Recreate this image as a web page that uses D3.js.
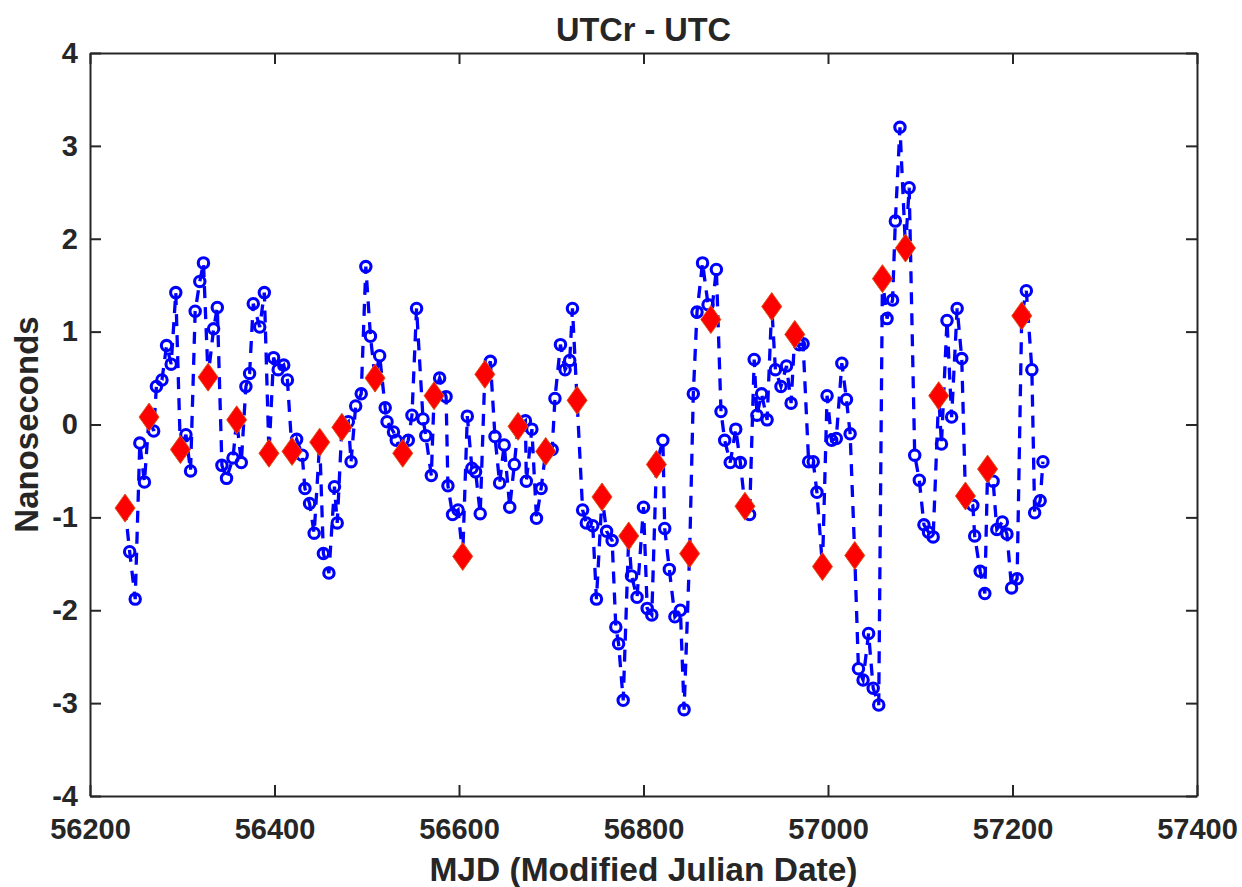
<!DOCTYPE html>
<html lang="en">
<head>
<meta charset="UTF-8">
<script src="https://cdnjs.cloudflare.com/ajax/libs/d3/7.8.5/d3.min.js"></script>
<style>
    body { margin: 0; background: #fff; }
    text { font-family: 'Liberation Sans', Arial, sans-serif; font-weight: bold; fill: #262626; }
</style>
<title>UTCr - UTC</title>
</head>
<body>
<div id="chart"></div>
<script>
// UTCr - UTC (blue circles), MJD and nanoseconds
const utcrMjd = [56243,56249,56254,56259,56269,56272,56278,56283,56288,56293,
    56304,56309,56314,56319,56323,56334,56338,56343,56348,56355,
    56364,56369,56373,56377,56384,56389,56399,56404,56410,56414,
    56424,56430,56433,56438,56443,56453,56459,56465,56468,56480,
    56483,56488,56494,56499,56504,56514,56520,56522,56529,56532,
    56545,56549,56554,56561,56564,56570,56579,56586,56588,56593,
    56599,56609,56614,56618,56623,56634,56639,56644,56649,56655,
    56660,56672,56673,56679,56684,56689,56701,56704,56710,56715,
    56720,56723,56734,56738,56745,56749,56760,56766,56770,56773,
    56778,56787,56793,56800,56804,56809,56821,56823,56828,56834,
    56840,56844,56854,56858,56864,56870,56879,56884,56888,56894,
    56900,56905,56915,56920,56923,56928,56934,56943,56949,56955,
    56960,56969,56973,56979,56984,56988,56999,57004,57009,57015,
    57020,57024,57033,57038,57044,57049,57055,57064,57070,57073,
    57078,57088,57094,57099,57104,57109,57114,57123,57129,57134,
    57140,57145,57157,57159,57165,57170,57179,57183,57189,57194,
    57199,57205,57215,57221,57224,57230,57233]
const utcrNs = [-1.37,-1.88,-0.20,-0.62,-0.07,0.41,0.48,0.85,0.65,1.42,
    -0.11,-0.50,1.22,1.54,1.74,1.03,1.26,-0.44,-0.58,-0.36,
    -0.41,0.41,0.55,1.30,1.05,1.42,0.72,0.59,0.64,0.48,
    -0.16,-0.33,-0.69,-0.85,-1.17,-1.39,-1.60,-0.67,-1.06,0.03,
    -0.40,0.20,0.33,1.70,0.95,0.74,0.18,0.03,-0.08,-0.17,
    -0.17,0.10,1.25,0.06,-0.12,-0.55,0.50,0.30,-0.66,-0.97,
    -0.92,0.09,-0.47,-0.51,-0.96,0.68,-0.13,-0.63,-0.22,-0.89,
    -0.43,0.04,-0.61,-0.05,-1.01,-0.69,-0.27,0.28,0.86,0.59,
    0.69,1.25,-0.92,-1.06,-1.09,-1.88,-1.15,-1.25,-2.18,-2.36,
    -2.97,-1.63,-1.86,-0.89,-1.98,-2.05,-0.17,-1.12,-1.56,-2.07,
    -2.00,-3.07,0.33,1.21,1.74,1.29,1.67,0.14,-0.17,-0.41,
    -0.05,-0.41,-0.97,0.70,0.10,0.33,0.05,0.59,0.41,0.63,
    0.23,0.86,0.87,-0.40,-0.40,-0.73,0.31,-0.17,-0.15,0.66,
    0.27,-0.10,-2.63,-2.75,-2.25,-2.84,-3.02,1.14,1.34,2.19,
    3.20,2.55,-0.33,-0.60,-1.08,-1.16,-1.21,-0.21,1.12,0.08,
    1.25,0.71,-0.87,-1.20,-1.58,-1.82,-0.61,-1.13,-1.05,-1.18,
    -1.76,-1.66,1.44,0.59,-0.95,-0.82,-0.40]

// monthly points (red diamonds), sitting on the same dashed line
const utcMjd = [56238,56264,56298,56328,56359,56394,56419,56449,56473,56509,
    56539,56573,56604,56628,56664,56694,56728,56755,56784,56814,
    56850,56873,56910,56939,56964,56994,57029,57059,57084,57120,
    57149,57173,57210]
const utcNs = [-0.90,0.08,-0.27,0.51,0.05,-0.31,-0.29,-0.19,-0.03,0.50,
    -0.31,0.31,-1.42,0.54,-0.02,-0.29,0.26,-0.78,-1.20,-0.43,
    -1.39,1.13,-0.88,1.27,0.97,-1.53,-1.41,1.57,1.90,0.31,
    -0.77,-0.48,1.17]

const xTicks = [56200, 56400, 56600, 56800, 57000, 57200, 57400]
const yTicks = [-4, -3, -2, -1, 0, 1, 2, 3, 4]

const width = 1242
const height = 887
const margin = { top: 53, right: 45, bottom: 91, left: 90 }
const innerW = width - margin.left - margin.right
const innerH = height - margin.top - margin.bottom
const axisColor = '#262626'

const circles = utcrMjd.map((m, i) => ({ mjd: m, ns: utcrNs[i] }))
const diamonds = utcMjd.map((m, i) => ({ mjd: m, ns: utcNs[i] }))
const linePts = circles.concat(diamonds).sort((a, b) => a.mjd - b.mjd)

const xScale = d3.scaleLinear().domain([56200, 57400]).range([0, innerW])
const yScale = d3.scaleLinear().domain([-4, 4]).range([innerH, 0])

const svg = d3.select('#chart')
    .append('svg')
    .attr('width', width)
    .attr('height', height)

const g = svg.append('g')
    .attr('transform', `translate(${margin.left},${margin.top})`)

//Axes (ticks pointing inward, box all round)
const plain = d => String(d)
const xAxis = d3.axisBottom(xScale).tickValues(xTicks).tickSizeInner(-11).tickSizeOuter(0).tickPadding(22).tickFormat(plain)
const yAxis = d3.axisLeft(yScale).tickValues(yTicks).tickSizeInner(-11).tickSizeOuter(0).tickPadding(12).tickFormat(plain)
const xTop = d3.axisTop(xScale).tickValues(xTicks).tickSizeInner(-11).tickSizeOuter(0).tickFormat('')
const yRight = d3.axisRight(yScale).tickValues(yTicks).tickSizeInner(-11).tickSizeOuter(0).tickFormat('')

const gx = g.append('g').attr('transform', `translate(0,${innerH})`).call(xAxis)
const gy = g.append('g').call(yAxis)
const gt = g.append('g').call(xTop)
const gr = g.append('g').attr('transform', `translate(${innerW},0)`).call(yRight)

;[gx, gy, gt, gr].forEach(a => {
    a.selectAll('path, line').attr('stroke', axisColor).attr('stroke-width', 2)
    a.selectAll('text')
        .style('font-family', "'Liberation Sans', Arial, sans-serif")
        .style('font-weight', 'bold')
        .style('font-size', '29px')
        .attr('fill', axisColor)
})

//Dashed line
const line = d3.line().x(d => xScale(d.mjd)).y(d => yScale(d.ns))
g.append('path')
    .datum(linePts)
    .attr('d', line)
    .attr('fill', 'none')
    .attr('stroke', '#0000ff')
    .attr('stroke-width', 3.3)
    .attr('stroke-dasharray', '12,9')

//Circles
g.selectAll('circle')
    .data(circles)
    .enter()
    .append('circle')
    .attr('cx', d => xScale(d.mjd))
    .attr('cy', d => yScale(d.ns))
    .attr('r', 5.2)
    .attr('fill', 'none')
    .attr('stroke', '#0000ff')
    .attr('stroke-width', 3.1)

//Diamonds
g.selectAll('path.dia')
    .data(diamonds)
    .enter()
    .append('path')
    .attr('class', 'dia')
    .attr('d', 'M0,-14L10,0L0,14L-10,0Z')
    .attr('transform', d => `translate(${xScale(d.mjd)},${yScale(d.ns)})`)
    .attr('fill', '#ff0000')
    .attr('stroke', '#d95319')
    .attr('stroke-width', 1)

//Labels
svg.append('text')
    .attr('x', margin.left + innerW / 2)
    .attr('y', 41)
    .attr('text-anchor', 'middle')
    .style('font-size', '32.5px')
    .text('UTCr - UTC')

svg.append('text')
    .attr('x', margin.left + innerW / 2)
    .attr('y', 881)
    .attr('text-anchor', 'middle')
    .style('font-size', '33.5px')
    .text('MJD (Modified Julian Date)')

svg.append('text')
    .attr('transform', `translate(38,${margin.top + innerH / 2}) rotate(-90)`)
    .attr('text-anchor', 'middle')
    .style('font-size', '33px')
    .text('Nanoseconds')
</script>
</body>
</html>
